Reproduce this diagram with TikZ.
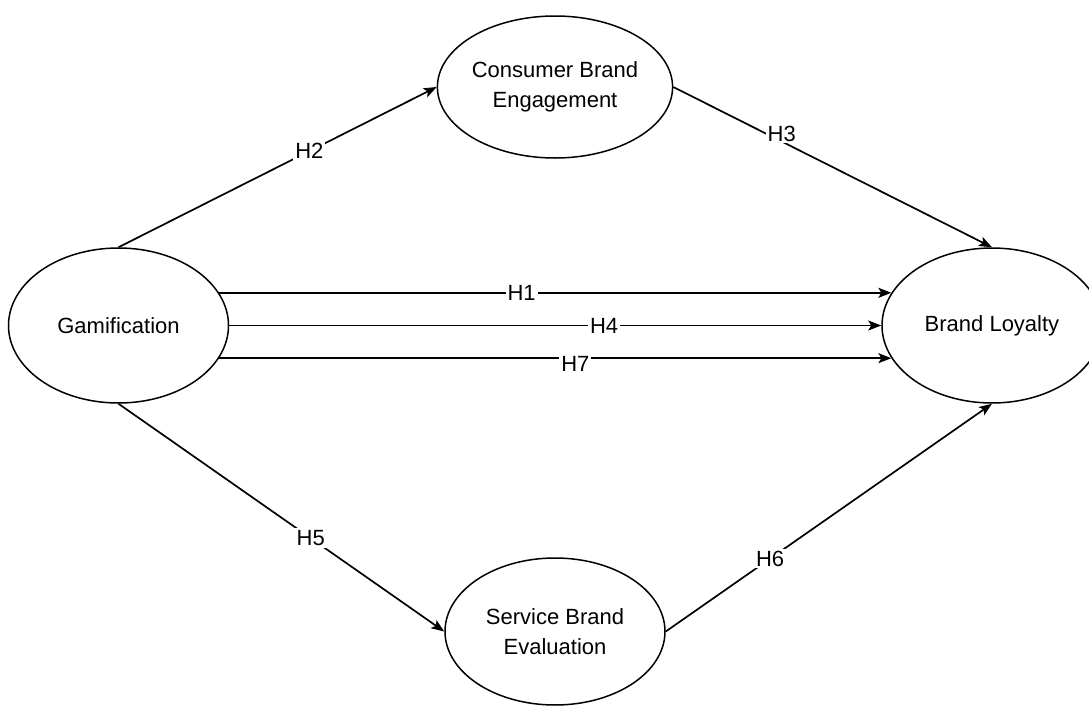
\documentclass[tikz,border=0pt]{standalone}
\usepackage{fontspec}
\setmainfont{Liberation Sans}
\usetikzlibrary{arrows.meta,shapes.geometric}

\begin{document}
\begin{tikzpicture}[
    x=0.5pt, y=-0.5pt,
    font=\fontsize{11}{15}\selectfont,
    construct/.style={draw, ellipse, line width=0.75pt, align=center, inner sep=0pt, minimum width=110pt, minimum height=77.5pt},
    arrow/.style={-{Stealth[length=6.5pt, width=5pt, inset=1.5pt]}, line width=0.85pt},
    hyp/.style={fill=white, inner sep=1pt}
]
\clip (0,0) rectangle (1089,707);
\node[construct] (gam) at (118.5,325.5) {Gamification};
\node[construct, minimum height=71pt] (cbe) at (555,87) {Consumer Brand\\Engagement};
\node[construct] (bl) at (992,325.5) {Brand Loyalty};
\node[construct, minimum height=73.5pt] (sbe) at (555,631.5) {Service Brand\\Evaluation};

\draw[arrow] (gam.north) -- node[hyp, pos=0.6] {H2} (cbe.west);
\draw[arrow] (cbe.east) -- node[hyp, pos=0.34, yshift=4pt] {H3} (bl.north);
\draw[arrow] (gam.18) -- node[hyp, pos=0.45] {H1} (bl.162);
\draw[arrow] (gam.east) -- node[hyp, pos=0.575] {H4} (bl.west);
\draw[arrow] (gam.-18) -- node[hyp, pos=0.53, yshift=-3pt] {H7} (bl.198);
\draw[arrow] (gam.south) -- node[hyp, pos=0.59] {H5} (sbe.west);
\draw[arrow] (sbe.east) -- node[hyp, pos=0.32] {H6} (bl.south);
\end{tikzpicture}
\end{document}
